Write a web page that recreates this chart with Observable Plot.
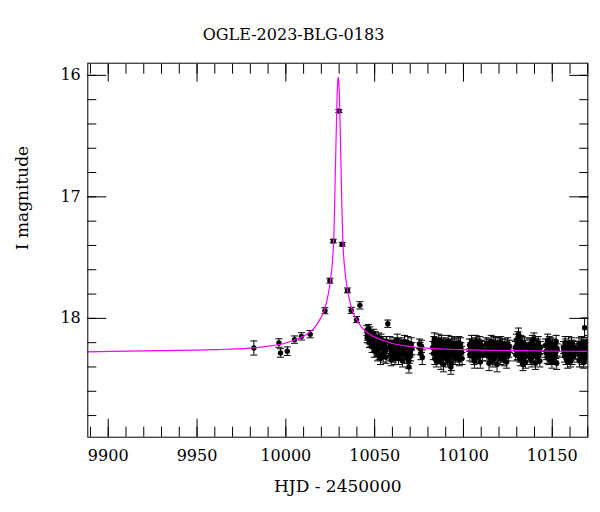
<!DOCTYPE html>
<html><head><meta charset="utf-8">
<script src="https://cdn.jsdelivr.net/npm/d3@7"></script>
<script src="https://cdn.jsdelivr.net/npm/@observablehq/plot@0.6"></script>
<style>
html,body{margin:0;padding:0;background:#fff;}
#title{box-sizing:border-box;height:50px;width:587px;padding-top:27px;text-align:center;font-family:"DejaVu Serif",serif;font-size:16px;line-height:16px;color:#000;}
#chart svg{display:block;}
</style></head><body>
<div id="title"></div>
<div id="chart"></div>
<script>
const titleText = "OGLE-2023-BLG-0183";
const xLabel = "HJD - 2450000";
const yLabel = "I magnitude";

// OGLE photometry: [HJD-2450000, I mag, error]
const photometry = [
 [9982.0,18.244,0.058],[9996.1,18.203,0.035],[9997.0,18.285,0.035],[10000.8,18.27,0.035],
 [10004.9,18.175,0.03],[10008.8,18.148,0.03],[10013.7,18.13,0.03],[10022.0,17.937,0.025],
 [10024.8,17.69,0.02],[10026.7,17.364,0.015],[10029.85,16.294,0.012],[10031.75,17.39,0.015],
 [10034.7,17.77,0.02],[10036.8,17.934,0.025],[10039.8,18.01,0.025],[10041.7,17.893,0.03],
 [10057.4,18.044,0.03],
 [10045.6,18.10,0.04],[10046.0,18.14,0.04],[10046.4,18.12,0.04],[10046.9,18.17,0.04],[10047.3,18.11,0.04],
 [10047.8,18.19,0.04],[10048.2,18.15,0.04],[10048.9,18.21,0.04],[10049.5,18.13,0.04],[10050.1,18.24,0.04],
 [10050.8,18.18,0.04],[10051.3,18.26,0.05],[10051.9,18.20,0.04],[10052.5,18.29,0.05],[10053.0,18.22,0.04],
 [10053.6,18.17,0.04],[10054.2,18.25,0.05],[10054.9,18.31,0.05],[10055.4,18.21,0.04],[10056.0,18.27,0.05],
 [10056.7,18.19,0.04],[10058.3,18.24,0.05],[10058.9,18.30,0.05],[10059.6,18.22,0.04],[10060.2,18.27,0.05],
 [10060.9,18.20,0.04],[10061.5,18.33,0.05],[10062.3,18.25,0.05],[10063.0,18.21,0.04],[10063.8,18.28,0.05],
 [10064.5,18.23,0.05],[10065.3,18.30,0.05],[10066.0,18.25,0.05],[10066.8,18.19,0.05],[10067.5,18.29,0.05],
 [10068.3,18.24,0.05],[10069.0,18.36,0.05],[10069.5,18.32,0.05],[10070.0,18.27,0.05],[10070.6,18.21,0.05],
 [10045.8,18.16,0.04],[10046.6,18.09,0.04],[10047.1,18.20,0.04],[10047.6,18.14,0.04],[10048.5,18.23,0.05],
 [10049.2,18.17,0.04],[10049.8,18.27,0.05],[10050.4,18.15,0.04],[10051.1,18.22,0.05],[10051.6,18.30,0.05],
 [10052.2,18.16,0.04],[10052.8,18.24,0.05],[10053.3,18.33,0.05],[10054.5,18.19,0.04],[10055.1,18.28,0.05],
 [10055.7,18.24,0.05],[10056.4,18.32,0.05],[10058.6,18.20,0.05],[10059.3,18.34,0.05],[10059.9,18.25,0.05],
 [10060.6,18.31,0.05],[10061.2,18.23,0.05],[10062.0,18.29,0.05],[10062.7,18.18,0.05],[10063.4,18.33,0.05],
 [10064.2,18.26,0.05],[10064.9,18.21,0.05],[10065.7,18.35,0.05],[10066.4,18.28,0.05],[10067.2,18.23,0.05],
 [10068.0,18.32,0.05],[10068.7,18.20,0.05],[10069.3,18.40,0.05],[10070.3,18.30,0.05],[10071.0,18.25,0.05],
 [10075.2,18.21,0.04],[10075.6,18.25,0.05],[10076.0,18.29,0.05],[10076.4,18.23,0.05],[10076.8,18.32,0.06],
 [10082.7,18.24,0.05],[10083.3,18.20,0.05],[10083.9,18.33,0.05],[10084.4,18.27,0.05],[10085.0,18.22,0.05],
 [10085.6,18.30,0.05],[10086.1,18.18,0.05],[10086.7,18.26,0.05],[10087.3,18.36,0.06],[10087.8,18.23,0.05],
 [10088.4,18.29,0.05],[10089.0,18.21,0.05],[10089.6,18.26,0.05],[10090.2,18.33,0.05],[10090.8,18.24,0.05],
 [10091.4,18.19,0.05],[10092.0,18.28,0.05],[10092.6,18.22,0.05],[10093.2,18.37,0.06],[10093.8,18.25,0.05],
 [10094.4,18.30,0.05],[10095.0,18.21,0.05],[10095.6,18.27,0.05],[10096.2,18.24,0.05],[10096.8,18.31,0.05],
 [10097.4,18.20,0.05],[10098.0,18.28,0.05],[10098.6,18.25,0.05],[10099.2,18.33,0.05],
 [10083.0,18.29,0.05],[10083.6,18.17,0.05],[10084.1,18.23,0.05],[10084.7,18.35,0.05],[10085.3,18.26,0.05],
 [10085.9,18.21,0.05],[10086.4,18.32,0.05],[10087.0,18.24,0.05],[10087.6,18.19,0.05],[10088.1,18.31,0.05],
 [10088.7,18.38,0.06],[10089.3,18.27,0.05],[10089.9,18.22,0.05],[10090.5,18.29,0.05],[10091.1,18.35,0.05],
 [10091.7,18.25,0.05],[10092.3,18.31,0.05],[10092.9,18.40,0.06],[10093.5,18.20,0.05],[10094.1,18.27,0.05],
 [10094.7,18.24,0.05],[10095.3,18.33,0.05],[10095.9,18.22,0.05],[10096.5,18.29,0.05],[10097.1,18.26,0.05],
 [10097.7,18.34,0.05],[10098.3,18.21,0.05],[10098.9,18.28,0.05],
 [10103.4,18.22,0.05],[10103.9,18.27,0.05],[10104.5,18.19,0.05],[10105.0,18.31,0.05],[10105.6,18.24,0.05],
 [10106.2,18.35,0.06],[10106.8,18.21,0.05],[10107.4,18.28,0.05],[10108.0,18.25,0.05],[10108.6,18.32,0.05],
 [10109.2,18.20,0.05],[10109.8,18.27,0.05],[10110.5,18.23,0.05],[10112.6,18.26,0.05],[10113.2,18.30,0.05],
 [10113.8,18.22,0.05],[10114.4,18.37,0.06],[10115.0,18.25,0.05],[10115.6,18.19,0.05],[10116.2,18.29,0.05],
 [10116.8,18.24,0.05],[10117.4,18.33,0.05],[10118.0,18.21,0.05],[10118.6,18.27,0.05],[10119.2,18.23,0.05],
 [10119.8,18.31,0.05],[10120.4,18.26,0.05],[10121.0,18.20,0.05],[10121.6,18.29,0.05],[10122.2,18.24,0.05],
 [10122.8,18.34,0.05],[10123.4,18.22,0.05],[10124.0,18.28,0.05],[10124.6,18.25,0.05],[10125.2,18.30,0.05],
 [10125.8,18.23,0.05],
 [10103.6,18.30,0.05],[10104.2,18.25,0.05],[10104.8,18.22,0.05],[10105.3,18.27,0.05],[10105.9,18.33,0.05],
 [10106.5,18.24,0.05],[10107.1,18.19,0.05],[10107.7,18.31,0.05],[10108.3,18.22,0.05],[10108.9,18.27,0.05],
 [10109.5,18.36,0.05],[10110.1,18.24,0.05],[10110.8,18.30,0.05],[10112.9,18.21,0.05],[10113.5,18.27,0.05],
 [10114.1,18.24,0.05],[10114.7,18.32,0.05],[10115.3,18.28,0.05],[10115.9,18.23,0.05],[10116.5,18.35,0.05],
 [10117.1,18.20,0.05],[10117.7,18.26,0.05],[10118.3,18.30,0.05],[10118.9,18.38,0.06],[10119.5,18.25,0.05],
 [10120.1,18.21,0.05],[10120.7,18.33,0.05],[10121.3,18.26,0.05],[10121.9,18.22,0.05],[10122.5,18.28,0.05],
 [10123.1,18.31,0.05],[10123.7,18.25,0.05],[10124.3,18.36,0.05],[10124.9,18.21,0.05],[10125.5,18.27,0.05],
 [10129.2,18.24,0.05],[10129.8,18.18,0.05],[10130.4,18.29,0.05],[10131.0,18.13,0.05],[10131.5,18.22,0.05],
 [10132.0,18.34,0.05],[10132.5,18.26,0.05],[10133.0,18.20,0.05],[10133.5,18.38,0.05],[10134.0,18.28,0.05],
 [10134.6,18.23,0.05],[10135.2,18.31,0.05],
 [10129.5,18.30,0.05],[10130.1,18.22,0.05],[10130.7,18.16,0.05],[10131.2,18.27,0.05],[10131.8,18.31,0.05],
 [10132.3,18.19,0.05],[10132.8,18.29,0.05],[10133.3,18.24,0.05],[10133.8,18.33,0.05],[10134.3,18.21,0.05],
 [10134.9,18.36,0.05],
 [10136.8,18.25,0.05],[10137.3,18.30,0.05],[10137.9,18.21,0.05],[10138.5,18.35,0.05],[10139.1,18.26,0.05],
 [10139.7,18.17,0.05],[10140.3,18.28,0.05],[10140.9,18.23,0.05],[10141.5,18.32,0.05],[10142.1,18.20,0.05],
 [10142.7,18.27,0.05],[10143.3,18.24,0.05],
 [10137.0,18.22,0.05],[10137.6,18.33,0.05],[10138.2,18.27,0.05],[10138.8,18.19,0.05],[10139.4,18.31,0.05],
 [10140.0,18.24,0.05],[10140.6,18.37,0.05],[10141.2,18.26,0.05],[10141.8,18.22,0.05],[10142.4,18.30,0.05],
 [10143.0,18.35,0.05],
 [10146.2,18.22,0.05],[10146.8,18.29,0.05],[10147.4,18.18,0.05],[10148.0,18.33,0.05],[10148.6,18.25,0.05],
 [10149.2,18.21,0.05],[10149.8,18.36,0.05],[10150.4,18.27,0.05],[10151.0,18.23,0.05],[10151.6,18.30,0.05],
 [10152.2,18.19,0.05],[10152.8,18.26,0.05],
 [10146.5,18.27,0.05],[10147.1,18.32,0.05],[10147.7,18.24,0.05],[10148.3,18.20,0.05],[10148.9,18.30,0.05],
 [10149.5,18.26,0.05],[10150.1,18.22,0.05],[10150.7,18.33,0.05],[10151.3,18.25,0.05],[10151.9,18.28,0.05],
 [10152.5,18.37,0.05],
 [10156.3,18.24,0.05],[10156.9,18.31,0.05],[10157.5,18.22,0.05],[10158.1,18.27,0.05],[10158.7,18.36,0.05],
 [10159.3,18.20,0.05],[10159.9,18.29,0.05],[10160.5,18.25,0.05],[10161.1,18.33,0.05],[10161.7,18.23,0.05],
 [10162.3,18.28,0.05],
 [10156.6,18.27,0.05],[10157.2,18.20,0.05],[10157.8,18.33,0.05],[10158.4,18.24,0.05],[10159.0,18.29,0.05],
 [10159.6,18.26,0.05],[10160.2,18.35,0.05],[10160.8,18.21,0.05],[10161.4,18.28,0.05],[10162.0,18.31,0.05],
 [10162.6,18.24,0.05],
 [10164.4,18.26,0.05],[10165.0,18.21,0.05],[10165.6,18.30,0.05],[10166.2,18.24,0.05],[10166.8,18.33,0.05],
 [10167.4,18.22,0.05],[10168.0,18.28,0.05],[10168.6,18.25,0.05],[10169.2,18.31,0.05],[10169.8,18.19,0.05],
 [10164.7,18.29,0.05],[10165.3,18.35,0.05],[10165.9,18.27,0.05],[10166.5,18.20,0.05],[10167.1,18.29,0.05],
 [10167.7,18.36,0.05],[10168.3,18.23,0.05],[10168.9,18.32,0.05],[10169.5,18.26,0.05],
 [10168.2,18.077,0.08]
];

// model light curve
const modelT = [9888,9929.5,9959.5,9979.5,9989.5,9999.5,10004.5,10009.5,10012.5,10016.5,10019.5,10021.5,
 10023.0,10024.5,10025.5,10026.5,10027.0,10027.5,10028.0,10028.5,10028.9,10029.2,10029.5,
 10029.8,10030.1,10030.5,10031.0,10031.5,10032.0,10032.5,10033.5,10034.5,10036.0,10037.5,10039.5,
 10042.5,10046.5,10049.5,10054.5,10059.5,10069.5,10079.5,10099.5,10129.5,10171];
const modelMag = [18.275,18.266,18.258,18.245,18.23,18.205,18.18,18.15,18.125,18.07,18.00,17.94,
 17.86,17.75,17.64,17.48,17.33,17.05,16.70,16.38,16.15,16.06,16.015,
 16.06,16.15,16.38,16.70,17.05,17.33,17.48,17.64,17.75,17.86,17.94,18.00,
 18.07,18.125,18.15,18.18,18.205,18.23,18.245,18.258,18.266,18.272];

const xMajorTicks = [9900,9950,10000,10050,10100,10150];
const xMinorTicks = [9890,9900,9910,9920,9930,9940,9950,9960,9970,9980,9990,10000,10010,10020,10030,10040,
 10050,10060,10070,10080,10090,10100,10110,10120,10130,10140,10150,10160,10170];
const yMajorTicks = [16,17,18];
const yMinorTicks = [16,16.2,16.4,16.6,16.8,17,17.2,17.4,17.6,17.8,18,18.2,18.4,18.6,18.8];

document.getElementById("title").textContent = titleText;

const obs = photometry.map(([t,m,e]) => ({t, m, lo: m - e, hi: m + e}));
const model = modelT.map((t,i) => ({t, m: modelMag[i]}));

const capSymbol = {draw(ctx, size){ const w = Math.sqrt(size/Math.PI); ctx.moveTo(-w,0); ctx.lineTo(w,0); }};
const font = '"DejaVu Serif", serif';

const chart = Plot.plot({
  width: 600, height: 462,
  marginTop: 12.7, marginRight: 12.7, marginBottom: 75.3, marginLeft: 87.3,
  x: {domain: [9888.5, 10170]},
  y: {domain: [15.9, 18.978], reverse: true},
  style: {fontFamily: font, fontSize: "16px", color: "black", background: "white", overflow: "visible"},
  marks: [
    Plot.ruleX(obs, {x: "t", y1: "lo", y2: "hi", stroke: "black", strokeWidth: 1, clip: true}),
    Plot.dot(obs, {x: "t", y: "lo", symbol: capSymbol, r: 3.5, stroke: "black", strokeWidth: 1, fill: "none", clip: true}),
    Plot.dot(obs, {x: "t", y: "hi", symbol: capSymbol, r: 3.5, stroke: "black", strokeWidth: 1, fill: "none", clip: true}),
    Plot.dot(obs, {x: "t", y: "m", r: 2.7, fill: "black", stroke: "none", clip: true}),
    Plot.line(model, {x: "t", y: "m", stroke: "#ff00ff", strokeWidth: 1.2, curve: "monotone-x", clip: true}),
    Plot.axisX(xMinorTicks, {anchor: "bottom", tickSize: -10, fill: "none", label: null}),
    Plot.axisX(xMajorTicks, {anchor: "bottom", tickSize: -18, fill: "none", label: null}),
    Plot.axisX(xMinorTicks, {anchor: "top", tickSize: -10, fill: "none", label: null}),
    Plot.axisX(xMajorTicks, {anchor: "top", tickSize: -18, fill: "none", label: null}),
    Plot.axisX(xMajorTicks, {anchor: "bottom", tickSize: 0, tickPadding: 12, tickFormat: d => String(d), label: null, fontSize: 16}),
    Plot.axisY(yMinorTicks, {anchor: "left", tickSize: -9, fill: "none", label: null}),
    Plot.axisY(yMajorTicks, {anchor: "left", tickSize: -19, fill: "none", label: null}),
    Plot.axisY(yMinorTicks, {anchor: "right", tickSize: -9, fill: "none", label: null}),
    Plot.axisY(yMajorTicks, {anchor: "right", tickSize: -19, fill: "none", label: null}),
    Plot.axisY(yMajorTicks, {anchor: "left", tickSize: 0, tickPadding: 7, tickFormat: d => String(d), label: null, fontSize: 16}),
    Plot.frame({stroke: "black", strokeWidth: 1}),
    Plot.text([xLabel], {frameAnchor: "bottom", dy: 49.3, text: d => d, fontSize: 17, lineAnchor: "middle", fill: "black"}),
    Plot.text([yLabel], {frameAnchor: "left", dx: -65.3, rotate: -90, text: d => d, fontSize: 17, lineAnchor: "middle", fill: "black"})
  ]
});
document.getElementById("chart").appendChild(chart);
</script>
</body></html>
